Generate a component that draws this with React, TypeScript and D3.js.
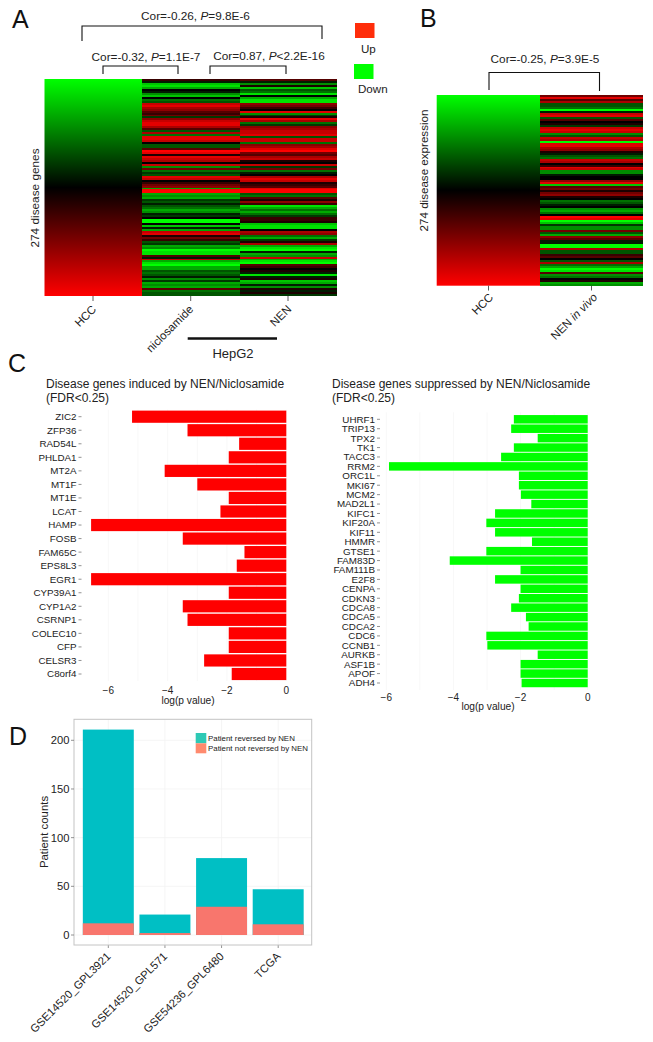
import React from "react";
import * as d3 from "d3";

const nicValues = [2,-1,-7,-8,-6,0,-1,-5,-7,0,-4,-3,7,8,6,5,3,2,4,-2,5,7,8,8,6,3,-3,6,-4,8,8,7,0,-3,-3,3,9,8,1,8,7,6,0,7,-5,4,-4,-2,-3,8,7,0,2,4,5,-6,9,9,-6,-5,-6,-2,-3,-1,-3,-4,-6,-5,-1,-2,0,-9,-9,0,-7,-1,-6,7,8,1,4,2,-3,-2,-6,-5,-9,-8,-8,3,-1,7,-6,-8,-9,-6,-6,-3,-4,-3,-1,-5,-2,-6,-5,-6,3,-4,-3,-3];
const nenValues = [3,-1,-5,1,-7,-3,-4,-8,0,-6,-8,-8,5,4,2,0,8,-5,-2,1,8,6,-4,-2,5,6,7,7,8,-3,7,7,-4,5,6,8,9,4,3,6,7,1,0,7,-2,4,-4,-1,0,6,8,7,1,2,3,8,9,9,-3,-4,3,1,5,2,-8,-6,-4,-6,-4,-2,2,2,1,-7,-8,-8,0,6,5,-4,-6,-2,1,6,-6,-8,-9,-1,-6,-5,7,-6,-8,-9,3,2,0,1,-1,-8,-1,1,-7,-6,-1,-5,1,-1,1,-2];
const vivoValues = [4,8,3,6,-3,-3,-4,-9,-1,7,8,-3,3,0,1,-2,7,8,7,-5,-3,7,6,-9,8,8,6,5,1,-1,-3,-4,7,6,0,2,8,7,-5,-5,-1,0,0,5,8,-7,3,4,1,4,5,1,0,-4,-3,-1,0,-5,-6,-4,0,9,8,-9,-7,-2,-5,-5,4,-3,-6,5,3,-1,-1,-9,-9,6,-3,-3,2,3,0,-3,6,-4,-6,-9,-8,3,-5,-4,0,1,-6,-5];

const inducedGenes = ["ZIC2","ZFP36","RAD54L","PHLDA1","MT2A","MT1F","MT1E","LCAT","HAMP","FOSB","FAM65C","EPS8L3","EGR1","CYP39A1","CYP1A2","CSRNP1","COLEC10","CFP","CELSR3","C8orf4"];
const inducedValues = [-5.2,-3.33,-1.59,-1.94,-4.1,-3.0,-1.94,-2.22,-6.58,-3.49,-1.41,-1.67,-6.58,-1.94,-3.49,-3.33,-1.94,-1.94,-2.77,-1.84];
const suppressedGenes = ["UHRF1","TRIP13","TPX2","TK1","TACC3","RRM2","ORC1L","MKI67","MCM2","MAD2L1","KIFC1","KIF20A","KIF11","HMMR","GTSE1","FAM83D","FAM111B","E2F8","CENPA","CDKN3","CDCA8","CDCA5","CDCA2","CDC6","CCNB1","AURKB","ASF1B","APOF","ADH4"];
const suppressedValues = [-2.2,-2.28,-1.49,-2.2,-2.58,-5.92,-2.05,-2.05,-1.99,-1.68,-2.76,-3.02,-2.76,-1.66,-3.02,-4.11,-2.0,-2.76,-2.0,-2.05,-2.28,-1.84,-1.76,-3.02,-2.99,-1.49,-2.0,-2.0,-1.97];
const xTicksNeg = [-6,-4,-2,0];

const cohorts = ["GSE14520_GPL3921","GSE14520_GPL571","GSE54236_GPL6480","TCGA"];
const totalCounts = [211,21,79,47];
const notReversedCounts = [12,2,29,11];
const countTicks = [0,50,100,150,200];

const FONT = "'Liberation Sans', Arial, sans-serif";
const INK = "#222";
const heat = d3.scaleLinear<string>().domain([-9,0,9]).range(["#00ff00","#000000","#ff0000"]).interpolate(d3.interpolateRgb);

function Stripes({values,x,w,y0,y1}:{values:number[],x:number,w:number,y0:number,y1:number}) {
  const band = d3.scaleBand<number>().domain(values.map((_,i)=>i)).range([y0,y1]);
  return <g shapeRendering="crispEdges" clipPath={undefined}>{values.map((v,i)=>
    <rect key={i} x={x} width={w} y={band(i)!} height={i===values.length-1?band.bandwidth():band.bandwidth()+0.5} fill={heat(v)} filter="url(#soft)"/>)}</g>;
}

function Bracket({x0,x1,y,d0,d1}:{x0:number,x1:number,y:number,d0:number,d1:number}) {
  return <path d={`M${x0},${d0}V${y}H${x1}V${d1}`} fill="none" stroke="#111" strokeWidth={1.1}/>;
}

function CorLabel({x,y,a,b}:{x:number,y:number,a:string,b:string}) {
  return <text x={x} y={y} fontSize={11.8} fill={INK} textAnchor="middle">{a}<tspan fontStyle="italic">P</tspan>{b}</text>;
}

function RotLabel({x,y,size=11.5,children}:{x:number,y:number,size?:number,children:React.ReactNode}) {
  return <text transform={`translate(${x},${y}) rotate(-45)`} textAnchor="end" fontSize={size} fill={INK}>{children}</text>;
}

function HBars({genes,values,x,y,h,tickRight,labelY,titleX,titleY,fill,barFrac,fs}:{genes:string[],values:number[],x:d3.ScaleLinear<number,number>,y:d3.ScalePoint<string>,h:number,tickRight:number,labelY:number,titleX:number,titleY:number,fill:string,barFrac:number,fs:number}) {
  return <g>
    {xTicksNeg.concat([-5,-3,-1]).map(t=><line key={t} x1={x(t)} x2={x(t)} y1={y(genes[0])!-7} y2={y(genes[genes.length-1])!+7} stroke="#f8f8f8"/>)}
    {genes.map((g,i)=>{
      const cy=y(g)!;
      return <g key={g}>
        <rect x={x(values[i])} width={x(0)-x(values[i])} y={cy-h*barFrac/2} height={h*barFrac} fill={fill}/>
        <line x1={tickRight+2} x2={tickRight+5} y1={cy} y2={cy} stroke="#777" strokeWidth={0.8}/>
        <text x={tickRight} y={cy+3.4} textAnchor="end" fontSize={fs} fill={INK}>{g}</text>
      </g>;
    })}
    {xTicksNeg.map(t=><text key={t} x={x(t)} y={labelY} textAnchor="middle" fontSize={10} fill={INK}>{t<0?`\u2212${-t}`:t}</text>)}
    <text x={titleX} y={titleY} textAnchor="middle" fontSize={10.2} fill={INK}>log(p value)</text>
  </g>;
}

export default function App() {
  const xL = d3.scaleLinear().domain([-6,0]).range([108.3,286.3]);
  const yL = d3.scalePoint<string>().domain(inducedGenes).range([416.7,674]);
  const xR = d3.scaleLinear().domain([-6,0]).range([386.3,587.7]);
  const yR = d3.scalePoint<string>().domain(suppressedGenes).range([419.3,683]);
  const yD = d3.scaleLinear().domain([0,200]).range([935,740.3]);
  const xD = d3.scaleBand<string>().domain(cohorts).range([80,306.5]).paddingInner(0.1).paddingOuter(0.05);
  const dLeft=74, dRight=311.7, dTop=719.3, dBottom=945;
  return (
    <svg width={653} height={1042} viewBox="0 0 653 1042" style={{position:"absolute",left:0,top:0,background:"#fff"}} fontFamily={FONT}>
      <defs>
        <linearGradient id="hcc" x1="0" x2="0" y1="0" y2="1">
          <stop offset="0" stopColor={heat(-9)}/><stop offset="0.5" stopColor={heat(0)}/><stop offset="1" stopColor={heat(9)}/>
        </linearGradient>
        <filter id="soft" x="0" y="-40%" width="100%" height="180%">
          <feGaussianBlur in="SourceGraphic" stdDeviation="0 0.45"/>
        </filter>
      </defs>

      {/* Panel letters */}
      <text x={12} y={28} fontSize={25} fill="#111">A</text>
      <text x={420} y={27} fontSize={25} fill="#111">B</text>
      <text x={8} y={372} fontSize={25} fill="#111">C</text>
      <text x={9} y={745} fontSize={25} fill="#111">D</text>

      {/* Panel A */}
      <CorLabel x={195.5} y={20} a="Cor=-0.26, " b="=9.8E-6"/>
      <Bracket x0={82} x1={322} y={26} d0={41} d1={39}/>
      <CorLabel x={146} y={61} a="Cor=-0.32, " b="=1.1E-7"/>
      <Bracket x0={103} x1={178} y={66} d0={74} d1={74}/>
      <CorLabel x={269} y={60} a="Cor=0.87, " b="<2.2E-16"/>
      <Bracket x0={210} x1={286} y={66} d0={74} d1={74}/>
      <rect x={355} y={23} width={19.5} height={15} fill="#ff2d0a"/>
      <text x={361} y={53} fontSize={11.6} fill={INK}>Up</text>
      <rect x={354} y={64} width={19.5} height={15} fill="#00ff00"/>
      <text x={358} y={93} fontSize={11.6} fill={INK}>Down</text>
      <rect x={44.5} y={79} width={97.5} height={217} fill="url(#hcc)"/>
      <Stripes values={nicValues} x={142} w={98} y0={79} y1={296}/>
      <Stripes values={nenValues} x={240} w={97} y0={79} y1={296}/>
      {[93,190.7,288].map(x=><line key={x} x1={x} x2={x} y1={296} y2={301} stroke="#333" strokeWidth={0.8}/>)}
      <RotLabel x={97} y={310}>HCC</RotLabel>
      <RotLabel x={194} y={310}>niclosamide</RotLabel>
      <RotLabel x={292} y={310}>NEN</RotLabel>
      <text transform="translate(39,198) rotate(-90)" textAnchor="middle" fontSize={11.8} fill={INK}>274 disease genes</text>
      <line x1={187.7} x2={277} y1={338.5} y2={338.5} stroke="#111" strokeWidth={2.6}/>
      <text x={233} y={358} textAnchor="middle" fontSize={13} fill={INK}>HepG2</text>

      {/* Panel B */}
      <CorLabel x={545} y={63} a="Cor=-0.25, " b="=3.9E-5"/>
      <Bracket x0={489} x1={599.5} y={72.5} d0={90} d1={91}/>
      <rect x={436.7} y={95} width={103.3} height={190.7} fill="url(#hcc)"/>
      <Stripes values={vivoValues} x={540} w={103} y0={95} y1={285.7}/>
      {[488.5,591.5].map(x=><line key={x} x1={x} x2={x} y1={285.7} y2={290.5} stroke="#333" strokeWidth={0.8}/>)}
      <RotLabel x={494} y={298}>HCC</RotLabel>
      <RotLabel x={598} y={298}>NEN <tspan fontStyle="italic">in vivo</tspan></RotLabel>
      <text transform="translate(428,170.5) rotate(-90)" textAnchor="middle" fontSize={11.6} fill={INK}>274 disease expression</text>

      {/* Panel C */}
      <text x={46} y={388} fontSize={12} fill={INK}>Disease genes induced by NEN/Niclosamide</text>
      <text x={46} y={402} fontSize={12} fill={INK}>(FDR&lt;0.25)</text>
      <HBars genes={inducedGenes} values={inducedValues} x={xL} y={yL} h={13.54} tickRight={76.5} labelY={694} titleX={188} titleY={704} fill="#ff0000" barFrac={0.9} fs={9.8}/>
      <text x={332} y={388} fontSize={12} fill={INK}>Disease genes suppressed by NEN/Niclosamide</text>
      <text x={332} y={402} fontSize={12} fill={INK}>(FDR&lt;0.25)</text>
      <HBars genes={suppressedGenes} values={suppressedValues} x={xR} y={yR} h={9.42} tickRight={375} labelY={701} titleX={488} titleY={710} fill="#00ff00" barFrac={0.9} fs={9.8}/>

      {/* Panel D */}
      {countTicks.map(t=><line key={t} x1={dLeft} x2={dRight} y1={yD(t)} y2={yD(t)} stroke="#f3f3f3" strokeWidth={0.8}/>)}
      {cohorts.map(c=><line key={c} x1={xD(c)!+xD.bandwidth()/2} x2={xD(c)!+xD.bandwidth()/2} y1={dTop} y2={dBottom} stroke="#f3f3f3" strokeWidth={0.8}/>)}
      {cohorts.map((c,i)=><g key={c}>
        <rect x={xD(c)!} width={xD.bandwidth()} y={yD(totalCounts[i])} height={yD(0)-yD(totalCounts[i])} fill="#00BFC4"/>
        <rect x={xD(c)!} width={xD.bandwidth()} y={yD(notReversedCounts[i])} height={yD(0)-yD(notReversedCounts[i])} fill="#F8766D"/>
        <line x1={xD(c)!+xD.bandwidth()/2} x2={xD(c)!+xD.bandwidth()/2} y1={dBottom} y2={dBottom+3} stroke="#777" strokeWidth={0.8}/>
        <RotLabel x={xD(c)!+xD.bandwidth()/2+3} y={957} size={11.2}>{c}</RotLabel>
      </g>)}
      <rect x={dLeft} y={dTop} width={dRight-dLeft} height={dBottom-dTop} fill="none" stroke="#c4c4c4" strokeWidth={1}/>
      {countTicks.map(t=><g key={t}>
        <line x1={dLeft-3} x2={dLeft} y1={yD(t)} y2={yD(t)} stroke="#777" strokeWidth={0.8}/>
        <text x={69.5} y={yD(t)+4} textAnchor="end" fontSize={11.2} fill={INK}>{t}</text>
      </g>)}
      <text transform="translate(48,832) rotate(-90)" textAnchor="middle" fontSize={11.4} fill={INK}>Patient counts</text>
      <rect x={195.7} y={733} width={10.6} height={10.3} fill="#2dc9b5"/>
      <rect x={195.7} y={743.3} width={10.6} height={10} fill="#ff8a6e"/>
      <text x={208} y={740.8} fontSize={7.9} fill={INK}>Patient reversed by NEN</text>
      <text x={208} y={750.8} fontSize={7.9} fill={INK}>Patient not reversed by NEN</text>
    </svg>
  );
}
